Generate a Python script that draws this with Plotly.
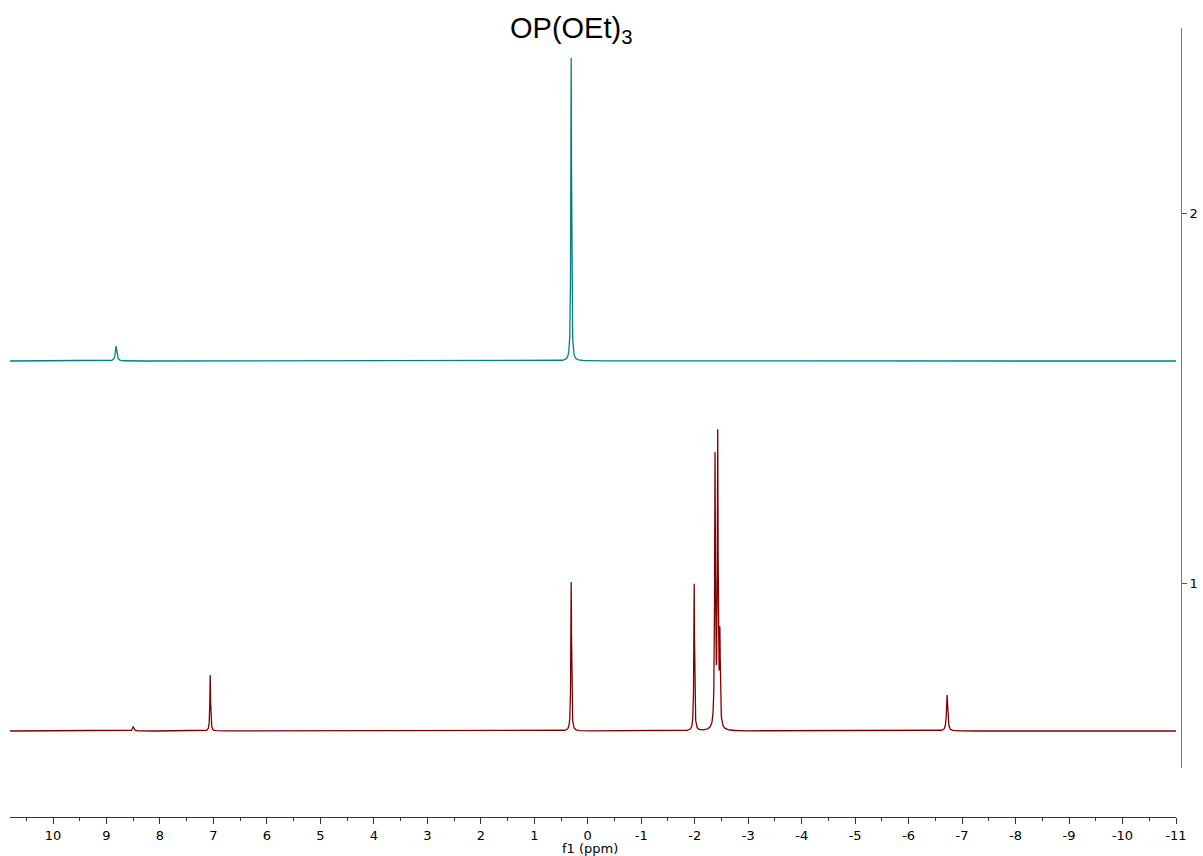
import numpy as np
import plotly.graph_objects as go

# ---- data ----
# top spectrum (teal): peak positions (ppm), heights above baseline, half-widths (ppm)
top_baseline = 1.60
top_ppm = [8.82, 0.31]
top_height = [0.040, 0.819]
top_hwhm = [0.018, 0.008]

# bottom spectrum (dark red)
bot_baseline = 0.60
bot_ppm = [8.50, 7.06, 0.31, -1.99, -2.38, -2.43, -2.47, -6.72]
bot_height = [0.012, 0.151, 0.403, 0.397, 0.727, 0.781, 0.238, 0.097]
bot_hwhm = [0.015, 0.008, 0.008, 0.008, 0.009, 0.009, 0.009, 0.014]

x_tickvals = list(range(-11, 11))
x_ticktext = [str(v) for v in x_tickvals]
y_tickvals = [1, 2]
y_ticktext = ["1", "2"]

title_text = "OP(OEt)<sub>3</sub>"
xlabel_text = "f1 (ppm)"

# ---- build line shapes ----
ppm = np.linspace(10.804, -11.0, 10903)


def spectrum(base, pos, hgt, wid):
    y = np.full_like(ppm, base)
    for p, h, w in zip(pos, hgt, wid):
        y += h * w**2 / ((ppm - p) ** 2 + w**2)
    return y


y_top = spectrum(top_baseline, top_ppm, top_height, top_hwhm)
y_bot = spectrum(bot_baseline, bot_ppm, bot_height, bot_hwhm)

fig = go.Figure()
fig.add_trace(go.Scatter(x=ppm, y=y_bot, mode="lines",
                         line=dict(color="#800000", width=1.3),
                         showlegend=False, hoverinfo="skip"))
fig.add_trace(go.Scatter(x=ppm, y=y_top, mode="lines",
                         line=dict(color="#008080", width=1.3),
                         showlegend=False, hoverinfo="skip"))

W, H = 1203, 856
L, R, T, B = 10, 22, 28, 39
pw = W - L - R
ph = H - T - B

fig.update_layout(
    template="none",
    width=W, height=H,
    margin=dict(l=L, r=R, t=T, b=B, pad=0),
    paper_bgcolor="white", plot_bgcolor="white",
    showlegend=False,
    xaxis=dict(
        domain=[0, (1176 - L) / pw],
        range=[10.804, -11.0],
        anchor="free", position=0,
        showline=True, linecolor="#333333", linewidth=1,
        ticks="outside", ticklen=6, tickcolor="#333333", tickwidth=1,
        tickvals=x_tickvals, ticktext=x_ticktext,
        minor=dict(dtick=0.5, tick0=0, ticks="outside", ticklen=3,
                   tickcolor="#333333", showgrid=False),
        showgrid=False, zeroline=False,
        tickfont=dict(family="DejaVu Sans", size=13, color="black"),
    ),
    yaxis=dict(
        domain=[(817 - 768) / ph, 1],
        range=[0.5, 2.5],
        side="right", anchor="free", position=1,
        showline=True, linecolor="#777777", linewidth=1,
        ticks="outside", ticklen=5, tickcolor="#555555",
        tickvals=y_tickvals, ticktext=y_ticktext,
        showgrid=False, zeroline=False,
        tickfont=dict(family="DejaVu Sans", size=13, color="black"),
    ),
    annotations=[
        dict(text=title_text, xref="paper", yref="paper",
             x=(571 - L) / pw, y=(817 - 30) / ph,
             xanchor="center", yanchor="middle", showarrow=False,
             font=dict(family="Liberation Sans, Arial", size=29, color="black")),
        dict(text=xlabel_text, xref="paper", yref="paper",
             x=(590 - L) / pw, y=(817 - 848) / ph,
             xanchor="center", yanchor="middle", showarrow=False,
             font=dict(family="DejaVu Sans", size=13, color="black")),
    ],
)

fig.write_html(
    "out.html",
    config={"displayModeBar": False},
    post_script="document.body.style.margin='0px';document.body.style.overflow='hidden';",
)
